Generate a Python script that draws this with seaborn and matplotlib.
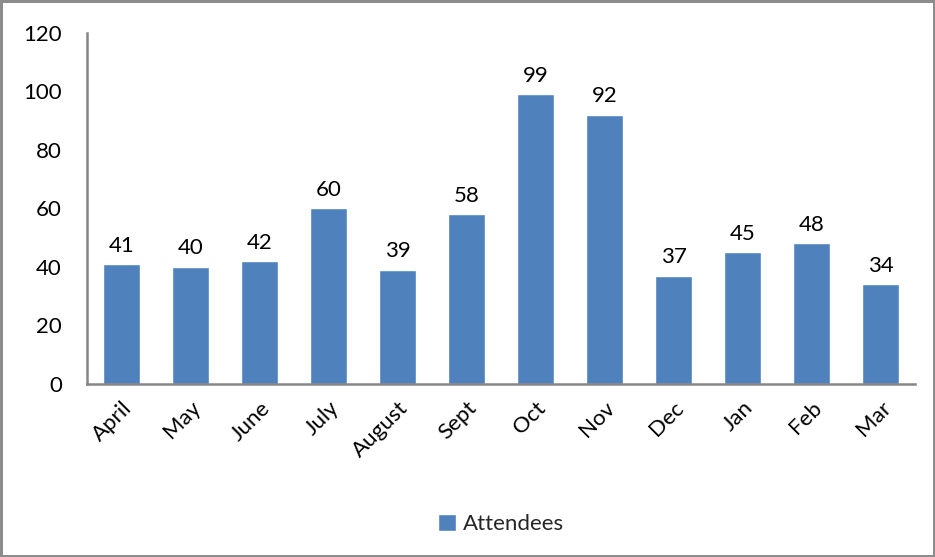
import numpy as np
import pandas as pd
import seaborn as sns
import matplotlib
matplotlib.use("Agg")
import matplotlib.pyplot as plt

months = ["April", "May", "June", "July", "August", "Sept", "Oct", "Nov", "Dec", "Jan", "Feb", "Mar"]
attendees = [41, 40, 42, 60, 39, 58, 99, 92, 37, 45, 48, 34]
series_name = "Attendees"
yticks = [0, 20, 40, 60, 80, 100, 120]

sns.set_theme(style="white")
plt.rcParams['font.family'] = ['Lato', 'DejaVu Sans']

bar_color = "#4F81BD"
axis_gray = "#868686"
fontsize = 16

df = pd.DataFrame({"month": months, "value": attendees, "series": series_name})

fig = plt.figure(figsize=(9.35, 5.57), dpi=100, edgecolor="#8c8c8c", linewidth=2.5)
ax = fig.add_axes([0.093, 0.311, 0.886, 0.630])

sns.barplot(data=df, x="month", y="value", hue="series", palette=[bar_color],
            width=0.54, saturation=1, ax=ax, legend=True)

for c in ax.containers:
    ax.bar_label(c, labels=[str(v) for v in attendees], padding=6, fontsize=fontsize, color="black")

ax.set_ylim(0, 120)
ax.set_xlim(-0.5, len(months) - 0.5)
ax.set_yticks(yticks)
ax.set_yticklabels([str(t) for t in yticks])
ax.set_xlabel("")
ax.set_ylabel("")
ax.tick_params(axis="both", length=0, labelsize=fontsize, colors="black")
ax.tick_params(axis="y", pad=18)
ax.tick_params(axis="x", pad=10)
plt.setp(ax.get_xticklabels(), rotation=45, ha="right", rotation_mode="anchor")

for s in ["top", "right"]:
    ax.spines[s].set_visible(False)
for s in ["left", "bottom"]:
    ax.spines[s].set_color(axis_gray)
    ax.spines[s].set_linewidth(1.8)

leg = ax.legend(loc="center", bbox_to_anchor=(0.5, -0.40), frameon=False,
                fontsize=fontsize, handlelength=0.8, handleheight=0.8, handletextpad=0.3)

fig.savefig("out.png", dpi=100)
